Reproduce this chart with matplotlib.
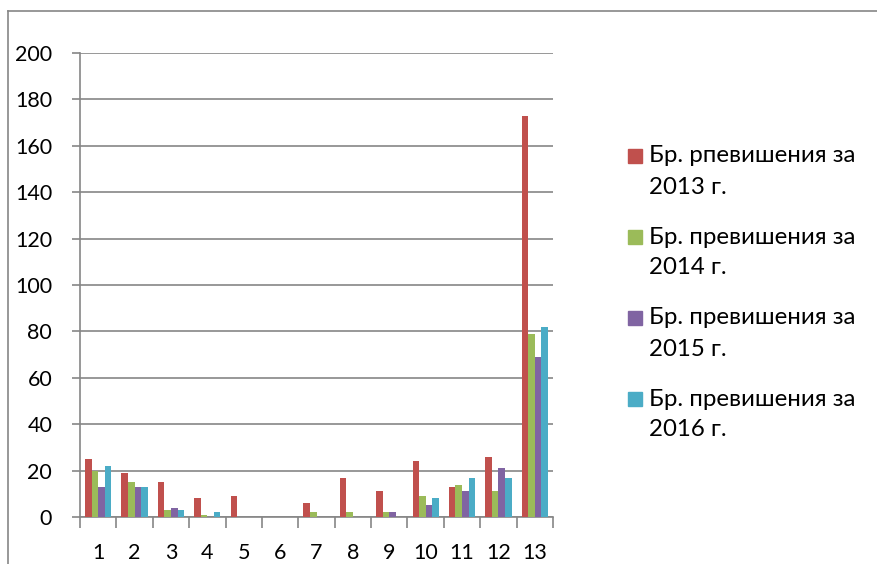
import matplotlib
matplotlib.use("Agg")
import matplotlib.pyplot as plt
import numpy as np
from matplotlib.patches import Rectangle
from matplotlib.lines import Line2D

plt.rcParams['font.family'] = ['Lato', 'DejaVu Sans']

categories = ['1', '2', '3', '4', '5', '6', '7', '8', '9', '10', '11', '12', '13']
series_names = ['Бр. рпевишения за\n2013 г.', 'Бр. превишения за\n2014 г.',
                'Бр. превишения за\n2015 г.', 'Бр. превишения за\n2016 г.']
v2013 = [25, 19, 15, 8, 9, 0, 6, 17, 11, 24, 13, 26, 173]
v2014 = [20, 15, 3, 1, 0, 0, 2, 2, 2, 9, 14, 11, 79]
v2015 = [13, 13, 4, 0, 0, 0, 0, 0, 2, 5, 11, 21, 69]
v2016 = [22, 13, 3, 2, 0, 0, 0, 0, 0, 8, 17, 17, 82]
yticks = [0, 20, 40, 60, 80, 100, 120, 140, 160, 180, 200]
colors = ['#C0504D', '#9BBB59', '#8064A2', '#4BACC6']

W, H = 877, 564
fig = plt.figure(figsize=(W / 100, H / 100), dpi=100)
ax = fig.add_axes([80 / W, (H - 517) / H, (553 - 80) / W, (517 - 53) / H])

x = np.arange(len(categories))
bw = 0.18
data = [v2013, v2014, v2015, v2016]
for i, (vals, c) in enumerate(zip(data, colors)):
    ax.bar(x + (i - 1.5) * bw, vals, width=bw, color=c, zorder=3, linewidth=0)

ax.set_xlim(-0.5, len(categories) - 0.5)
ax.set_ylim(0, 200)
ax.set_yticks(yticks)
ax.set_yticklabels([str(t) for t in yticks], fontsize=15.5)
ax.yaxis.grid(True, color='#868686', linewidth=1.2, zorder=0)
for s in ['top', 'right']:
    ax.spines[s].set_visible(False)
for s in ['left', 'bottom']:
    ax.spines[s].set_color('#868686')
    ax.spines[s].set_linewidth(1.2)
ax.tick_params(axis='y', length=6, color='#868686', width=1.2, pad=14)

# x ticks at category boundaries, labels centered
ax.set_xticks(np.arange(-0.5, len(categories), 1.0))
ax.set_xticklabels([])
ax.tick_params(axis='x', length=8, color='#868686', width=1.2)
ax.set_xticks(x, minor=True)
ax.set_xticklabels(categories, minor=True, fontsize=15.5)
ax.tick_params(axis='x', which='minor', length=0, pad=19)

# legend drawn manually
leg_top = [156, 237, 318, 399]
for name, c, ty in zip(series_names, colors, leg_top):
    fig.patches.append(Rectangle((628 / W, (H - ty - 7) / H), 14 / W, 14 / H,
                                 transform=fig.transFigure, color=c))
    for j, line in enumerate(name.split('\n')):
        fig.text(649 / W, (H - ty - 31 * j) / H, line, fontsize=17.3,
                 va='center', ha='left')

# outer chart border (cropped)
fig.add_artist(Line2D([8 / W, 8 / W], [0, (H - 11) / H], transform=fig.transFigure,
                      color='#868686', linewidth=1.2))
fig.add_artist(Line2D([8 / W, 1], [(H - 11) / H, (H - 11) / H], transform=fig.transFigure,
                      color='#868686', linewidth=1.2))

fig.savefig('out.png', dpi=100)
